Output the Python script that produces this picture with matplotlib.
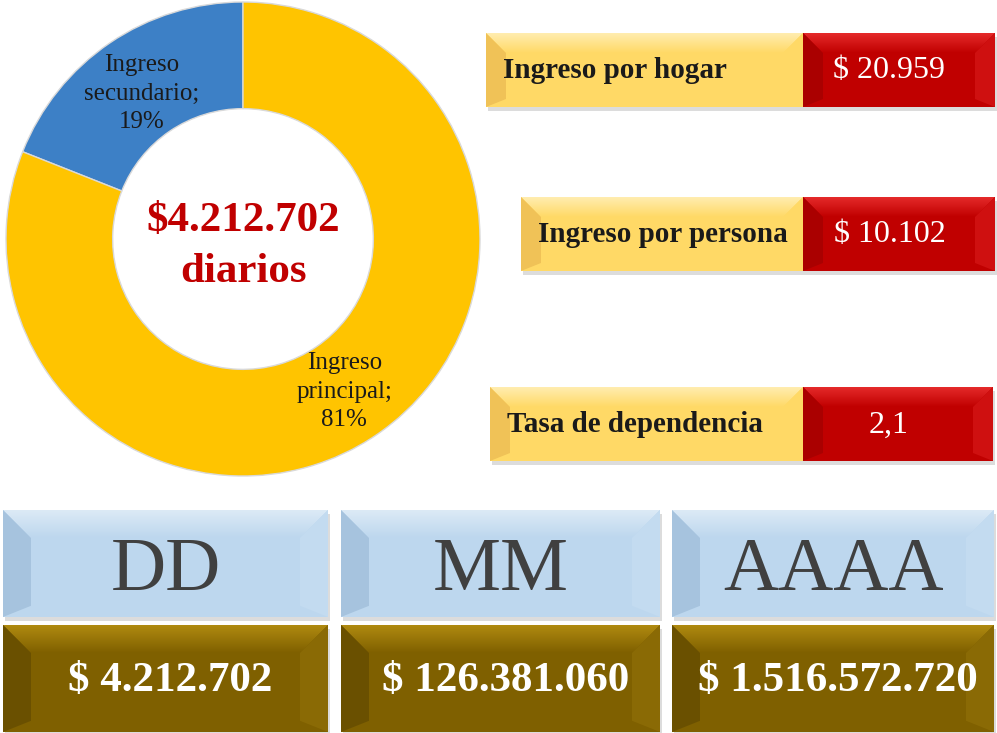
import numpy as np
import matplotlib.pyplot as plt
from matplotlib.patches import Rectangle, Polygon
from matplotlib.colors import LinearSegmentedColormap

plt.rcParams['font.family'] = ['Liberation Serif', 'DejaVu Serif']

# donut data
share_labels = ['Ingreso\nsecundario;', 'Ingreso\nprincipal;']
share_values = [19, 81]
share_colors = ['#3D80C6', '#FFC400']
center_text = '$4.212.702\ndiarios'

# indicator boxes
ind_labels = ['Ingreso por hogar', 'Ingreso por persona', 'Tasa de dependencia']
ind_values = ['$ 20.959', '$ 10.102', '2,1']

# period boxes
period_labels = ['DD', 'MM', 'AAAA']
period_values = ['$ 4.212.702', '$ 126.381.060', '$ 1.516.572.720']

W, H = 997, 733
fig = plt.figure(figsize=(W / 100, H / 100), dpi=100)
fig.patch.set_facecolor('white')

bg = fig.add_axes([0, 0, 1, 1])
bg.axis('off')


def grad_poly(ax, pts, c_top, c_bottom):
    # polygon filled with a vertical gradient
    poly = Polygon(pts, closed=True, facecolor='none', edgecolor='none', zorder=3)
    ax.add_patch(poly)
    xs = [p[0] for p in pts]
    ys = [p[1] for p in pts]
    cmap = LinearSegmentedColormap.from_list('g', [c_top, c_bottom])
    im = ax.imshow(np.linspace(0, 1, 64)[:, None], cmap=cmap, aspect='auto', zorder=3,
                   extent=(min(xs), max(xs), max(ys), min(ys)), interpolation='bilinear')
    im.set_clip_path(poly)


def bevel_box(ax, x0, y0, w, h, face, top, left, right, b=22):
    # soft shadow under the box
    ax.add_patch(Rectangle((x0 + 2, y0 + 4), w, h, color='#8c8c8c', alpha=0.3, lw=0, zorder=1))
    ax.add_patch(Rectangle((x0, y0), w, h, color=face, lw=0, zorder=2))
    x1, y1 = x0 + w, y0 + h
    grad_poly(ax, [(x0, y0), (x1, y0), (x1 - b, y0 + b), (x0 + b, y0 + b)], top, face)
    ax.add_patch(Polygon([(x0, y0), (x0 + b, y0 + b), (x0 + b, y1 - b * 0.4), (x0, y1)],
                         closed=True, color=left, lw=0, zorder=4))
    ax.add_patch(Polygon([(x1, y0), (x1 - b, y0 + b), (x1 - b, y1 - b * 0.4), (x1, y1)],
                         closed=True, color=right, lw=0, zorder=4))


# right-hand indicator rows
row_top = [33, 197, 387]
row_h = 74
row_left = [486, 521, 490]
row_split = 803
row_right = [995, 995, 993]
for i, (lab, val) in enumerate(zip(ind_labels, ind_values)):
    y0 = row_top[i]
    bevel_box(bg, row_left[i], y0, row_split - row_left[i], row_h,
              '#FFD966', '#FFEDB0', '#F0C257', '#FFD966', b=20)
    bevel_box(bg, row_split, y0, row_right[i] - row_split, row_h,
              '#C00000', '#E52A2A', '#AA0000', '#CF1010', b=20)
    bg.text(row_left[i] + 17, y0 + row_h / 2 + 1, lab, ha='left', va='center',
            fontsize=21, fontweight='bold', color='#1a1a1a', zorder=5)
    bg.text(row_split + 0.45 * (row_right[i] - row_split), y0 + row_h / 2 + 1, val,
            ha='center', va='center', fontsize=23, color='white', zorder=5)

# bottom period boxes
col_left = [3, 341, 672]
col_right = [328, 660, 994]
head_top, head_h = 510, 107
val_top, val_h = 625, 107
for i, (lab, val) in enumerate(zip(period_labels, period_values)):
    w = col_right[i] - col_left[i]
    bevel_box(bg, col_left[i], head_top, w, head_h,
              '#BDD7EE', '#DCEAF6', '#A6C3DE', '#C3DBF0', b=28)
    bevel_box(bg, col_left[i], val_top, w, val_h,
              '#7F6000', '#B08A10', '#6A5000', '#8A6A05', b=28)
    bg.text(col_left[i] + w / 2, head_top + head_h / 2 + 8, lab, ha='center', va='center',
            fontsize=55, color='#404040', zorder=5)
    bg.text(col_left[i] + w / 2 + 5, val_top + val_h / 2 + 2, val, ha='center', va='center',
            fontsize=31, fontweight='bold', color='white', zorder=5)

bg.set_xlim(0, W)
bg.set_ylim(H, 0)

# donut chart
cx, cy, r = 243, 239, 237
pax = fig.add_axes([(cx - r) / W, (H - cy - r) / H, 2 * r / W, 2 * r / H])
pax.patch.set_alpha(0)
wedges, _ = pax.pie(share_values, colors=share_colors, startangle=90, counterclock=True,
                    radius=1, wedgeprops=dict(width=0.45, edgecolor='#d9d9d9', linewidth=1))
pax.set_xlim(-1, 1)
pax.set_ylim(-1, 1)
pax.set_aspect('equal')
pax.axis('off')

for wdg, lab, v in zip(wedges, share_labels, share_values):
    ang = np.deg2rad((wdg.theta1 + wdg.theta2) / 2)
    pax.text(0.76 * np.cos(ang), 0.76 * np.sin(ang) - 0.015, f'{lab}\n{v}%', ha='center',
             va='center', fontsize=18, color='#1a1a1a', linespacing=1.4)

pax.text(0, -0.03, center_text, ha='center', va='center', fontsize=31, fontweight='bold',
         color='#C00000', linespacing=1.45)

fig.savefig('out.png', dpi=100, facecolor='white')
